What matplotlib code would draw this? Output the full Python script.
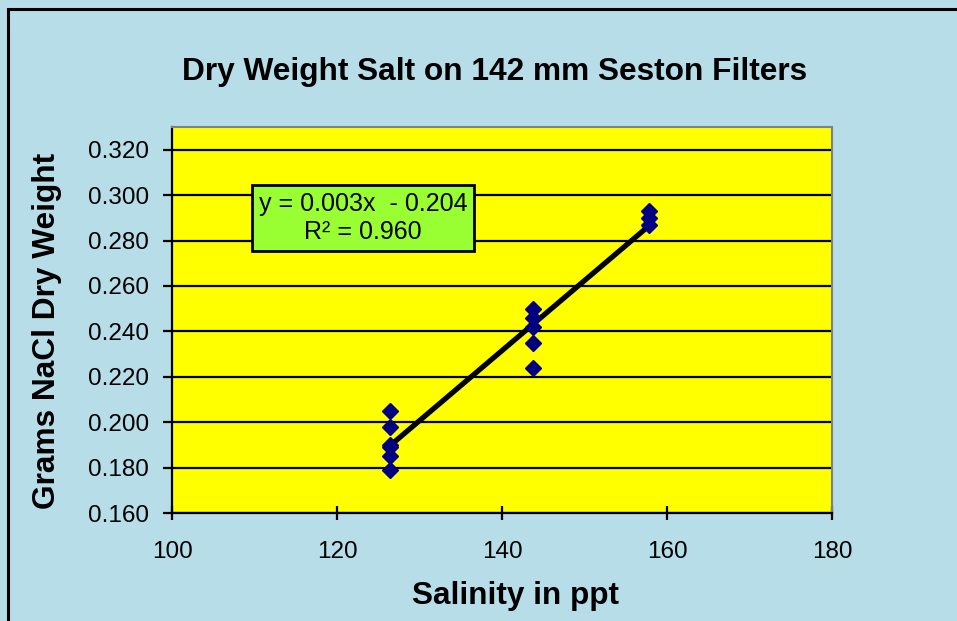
import matplotlib.pyplot as plt
import numpy as np
from matplotlib.patches import Rectangle

plt.rcParams['font.family'] = ['Liberation Sans', 'DejaVu Sans']

# salinity (ppt) and dry salt weight (g) per filter
salinity = [126.4, 126.4, 126.4, 126.4, 126.4, 126.4,
            143.8, 143.8, 143.8, 143.8, 143.8,
            157.8, 157.8, 157.8]
dry_weight = [0.205, 0.198, 0.190, 0.189, 0.185, 0.179,
              0.250, 0.246, 0.242, 0.235, 0.224,
              0.293, 0.290, 0.287]

x_ticks = [100, 120, 140, 160, 180]
y_ticks = [0.160, 0.180, 0.200, 0.220, 0.240, 0.260, 0.280, 0.300, 0.320]

fig = plt.figure(figsize=(9.57, 6.21), dpi=100)
fig.patch.set_facecolor('#B7DDE8')
# chart border, left/top edges
fig.patches.append(Rectangle((8 / 957, -0.1), 1.2, 1 - 9 / 621 + 0.1,
                             transform=fig.transFigure, fill=False,
                             edgecolor='black', linewidth=2.2))

ax = fig.add_axes([172 / 957, 108 / 621, 660 / 957, 386 / 621])
ax.set_facecolor('#FFFF00')

# least-squares trend line
slope, intercept = np.polyfit(salinity, dry_weight, 1)
xs = np.array([min(salinity), max(salinity)])
ax.plot(xs, slope * xs + intercept, color='black', lw=3.8, zorder=3)

ax.plot(salinity, dry_weight, linestyle='none', marker='D', ms=8.5,
        color='#000080', markeredgecolor='#000080', zorder=4)

ax.set_xlim(100, 180)
ax.set_ylim(0.160, 0.330)
ax.set_xticks(x_ticks)
ax.set_yticks(y_ticks)
ax.set_yticklabels([f'{v:.3f}' for v in y_ticks])
ax.yaxis.grid(True, color='black', lw=1.6)
ax.set_axisbelow(True)
ax.tick_params(direction='out', length=6.5, width=1.6, labelsize=17.5,
               colors='black')
ax.tick_params(axis='y', pad=10)
ax.tick_params(axis='x', direction='inout', length=10, pad=15)

for side in ['left', 'bottom']:
    ax.spines[side].set_color('black')
    ax.spines[side].set_linewidth(1.6)
for side in ['top', 'right']:
    ax.spines[side].set_color('#808080')
    ax.spines[side].set_linewidth(1.5)

ax.set_xlabel('Salinity in ppt', fontsize=22.7, fontweight='bold', labelpad=13)
ax.set_ylabel('Grams NaCl Dry Weight', fontsize=22.8, fontweight='bold',
              labelpad=19)
ax.xaxis.label.set_x(0.521)
ax.yaxis.label.set_y(0.4715)
fig.text(495 / 957, 1 - 72 / 621, 'Dry Weight Salt on 142 mm Seston Filters',
         ha='center', va='center', fontsize=22.8, fontweight='bold')

ax.text(363 / 957, 1 - 218 / 621, 'y = 0.003x  - 0.204\nR² = 0.960',
        transform=fig.transFigure, ha='center', va='center', fontsize=18,
        linespacing=1.25, zorder=6,
        bbox=dict(boxstyle='square,pad=0.28', facecolor='#99FF33',
                  edgecolor='black', linewidth=2))

fig.savefig('out.png', dpi=100, facecolor=fig.get_facecolor())
